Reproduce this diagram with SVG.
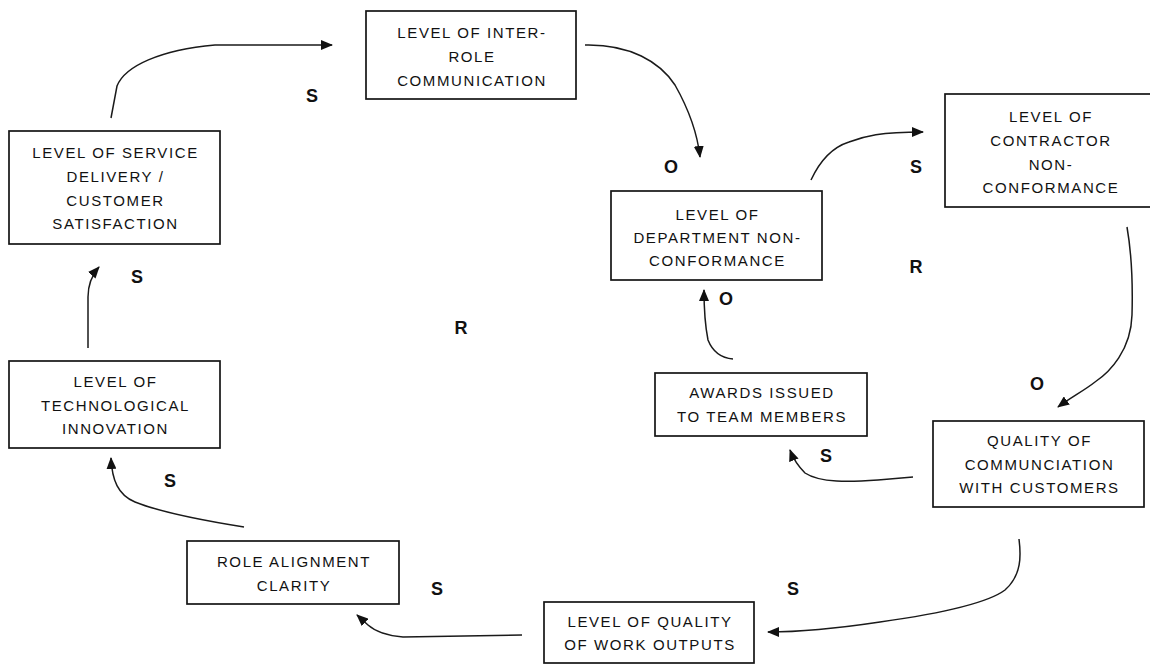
<svg xmlns="http://www.w3.org/2000/svg" width="1150" height="664" viewBox="0 0 1150 664">
  <style>
    .box { fill: #ffffff; stroke: #141414; stroke-width: 1.7; }
    .txt { font-family: "Liberation Sans", Arial, sans-serif; font-size: 15px; letter-spacing: 1.6px; fill: #111111; text-anchor: middle; }
    .lbl { font-family: "Liberation Sans", Arial, sans-serif; font-size: 18px; font-weight: bold; fill: #111111; text-anchor: middle; }
    .link { fill: none; stroke: #1a1a1a; stroke-width: 1.5; marker-end: url(#head); }
  </style>
  <defs>
    <marker id="head" markerWidth="12" markerHeight="10" refX="11" refY="5" orient="auto" markerUnits="userSpaceOnUse">
      <path d="M0,0 L12,5 L0,10 Z" fill="#111111"/>
    </marker>
  </defs>
  <rect width="1150" height="664" fill="#ffffff"/>

  <!-- causal links -->
  <g id="connectors">
    <path class="link" d="M111,118 L117,86 C125,66 160,50 215,45 L332,45"/>
    <path class="link" d="M585,45 C630,44 660,62 675,85 C688,108 697,130 700,157"/>
    <path class="link" d="M811,180 C818,165 830,148 849,142 C865,136 880,132 923,132"/>
    <path class="link" d="M1127,227 C1131,250 1133,280 1132,315 C1131,350 1110,372 1095,382 C1085,390 1070,398 1058,407"/>
    <path class="link" d="M913,477 L878,480 C850,482 820,483 805,473 C798,466 793,458 790,450"/>
    <path class="link" d="M733,359 C720,358 712,350 708,340 C705,325 704,305 704,290"/>
    <path class="link" d="M1019,539 C1021,555 1022,575 1005,590 C985,605 930,615 880,622 C840,628 800,632 768,632"/>
    <path class="link" d="M522,635 L403,637 C390,636 376,632 368,625 L357,615"/>
    <path class="link" d="M244,527 C200,520 160,512 135,502 C118,495 112,480 111,458"/>
    <path class="link" d="M88,348 L88,297 C88,285 92,275 99,267"/>
  </g>

  <!-- polarity and loop labels -->
  <g id="labels">
    <text class="lbl" x="312" y="102">S</text>
    <text class="lbl" x="671" y="173">O</text>
    <text class="lbl" x="916" y="173">S</text>
    <text class="lbl" x="916" y="273">R</text>
    <text class="lbl" x="137" y="283">S</text>
    <text class="lbl" x="461" y="334">R</text>
    <text class="lbl" x="726" y="305">O</text>
    <text class="lbl" x="1037" y="390">O</text>
    <text class="lbl" x="826" y="462">S</text>
    <text class="lbl" x="170" y="487">S</text>
    <text class="lbl" x="793" y="595">S</text>
    <text class="lbl" x="437" y="595">S</text>
  </g>

  <g id="inter-role-communication">
    <rect class="box" x="366" y="11" width="210" height="88"/>
    <text class="txt" x="472" y="38">LEVEL OF INTER-</text>
    <text class="txt" x="472" y="62">ROLE</text>
    <text class="txt" x="472" y="86">COMMUNICATION</text>
  </g>

  <g id="service-delivery">
    <rect class="box" x="9" y="131" width="211" height="113"/>
    <text class="txt" x="115.5" y="158">LEVEL OF SERVICE</text>
    <text class="txt" x="115.5" y="182">DELIVERY /</text>
    <text class="txt" x="115.5" y="206">CUSTOMER</text>
    <text class="txt" x="115.5" y="229">SATISFACTION</text>
  </g>

  <g id="department-non-conformance">
    <rect class="box" x="611" y="191" width="211" height="89"/>
    <text class="txt" x="717.5" y="220">LEVEL OF</text>
    <text class="txt" x="717.5" y="243">DEPARTMENT NON-</text>
    <text class="txt" x="717.5" y="266">CONFORMANCE</text>
  </g>

  <g id="contractor-non-conformance">
    <rect class="box" x="945" y="94" width="211" height="113"/>
    <text class="txt" x="1051" y="122">LEVEL OF</text>
    <text class="txt" x="1051" y="146">CONTRACTOR</text>
    <text class="txt" x="1051" y="170">NON-</text>
    <text class="txt" x="1051" y="193">CONFORMANCE</text>
  </g>

  <g id="technological-innovation">
    <rect class="box" x="9" y="361" width="211" height="87"/>
    <text class="txt" x="115.5" y="387">LEVEL OF</text>
    <text class="txt" x="115.5" y="411">TECHNOLOGICAL</text>
    <text class="txt" x="115.5" y="434">INNOVATION</text>
  </g>

  <g id="awards-issued">
    <rect class="box" x="655" y="373" width="212" height="63"/>
    <text class="txt" x="762" y="398">AWARDS ISSUED</text>
    <text class="txt" x="762" y="422">TO TEAM MEMBERS</text>
  </g>

  <g id="customer-communication">
    <rect class="box" x="933" y="421" width="211" height="86"/>
    <text class="txt" x="1039.5" y="446">QUALITY OF</text>
    <text class="txt" x="1039.5" y="470">COMMUNCIATION</text>
    <text class="txt" x="1039.5" y="493">WITH CUSTOMERS</text>
  </g>

  <g id="work-output-quality">
    <rect class="box" x="544" y="602" width="210" height="61"/>
    <text class="txt" x="650" y="627">LEVEL OF QUALITY</text>
    <text class="txt" x="650" y="650">OF WORK OUTPUTS</text>
  </g>

  <g id="role-alignment">
    <rect class="box" x="187" y="541" width="212" height="63"/>
    <text class="txt" x="294" y="567">ROLE ALIGNMENT</text>
    <text class="txt" x="294" y="591">CLARITY</text>
  </g>
</svg>
